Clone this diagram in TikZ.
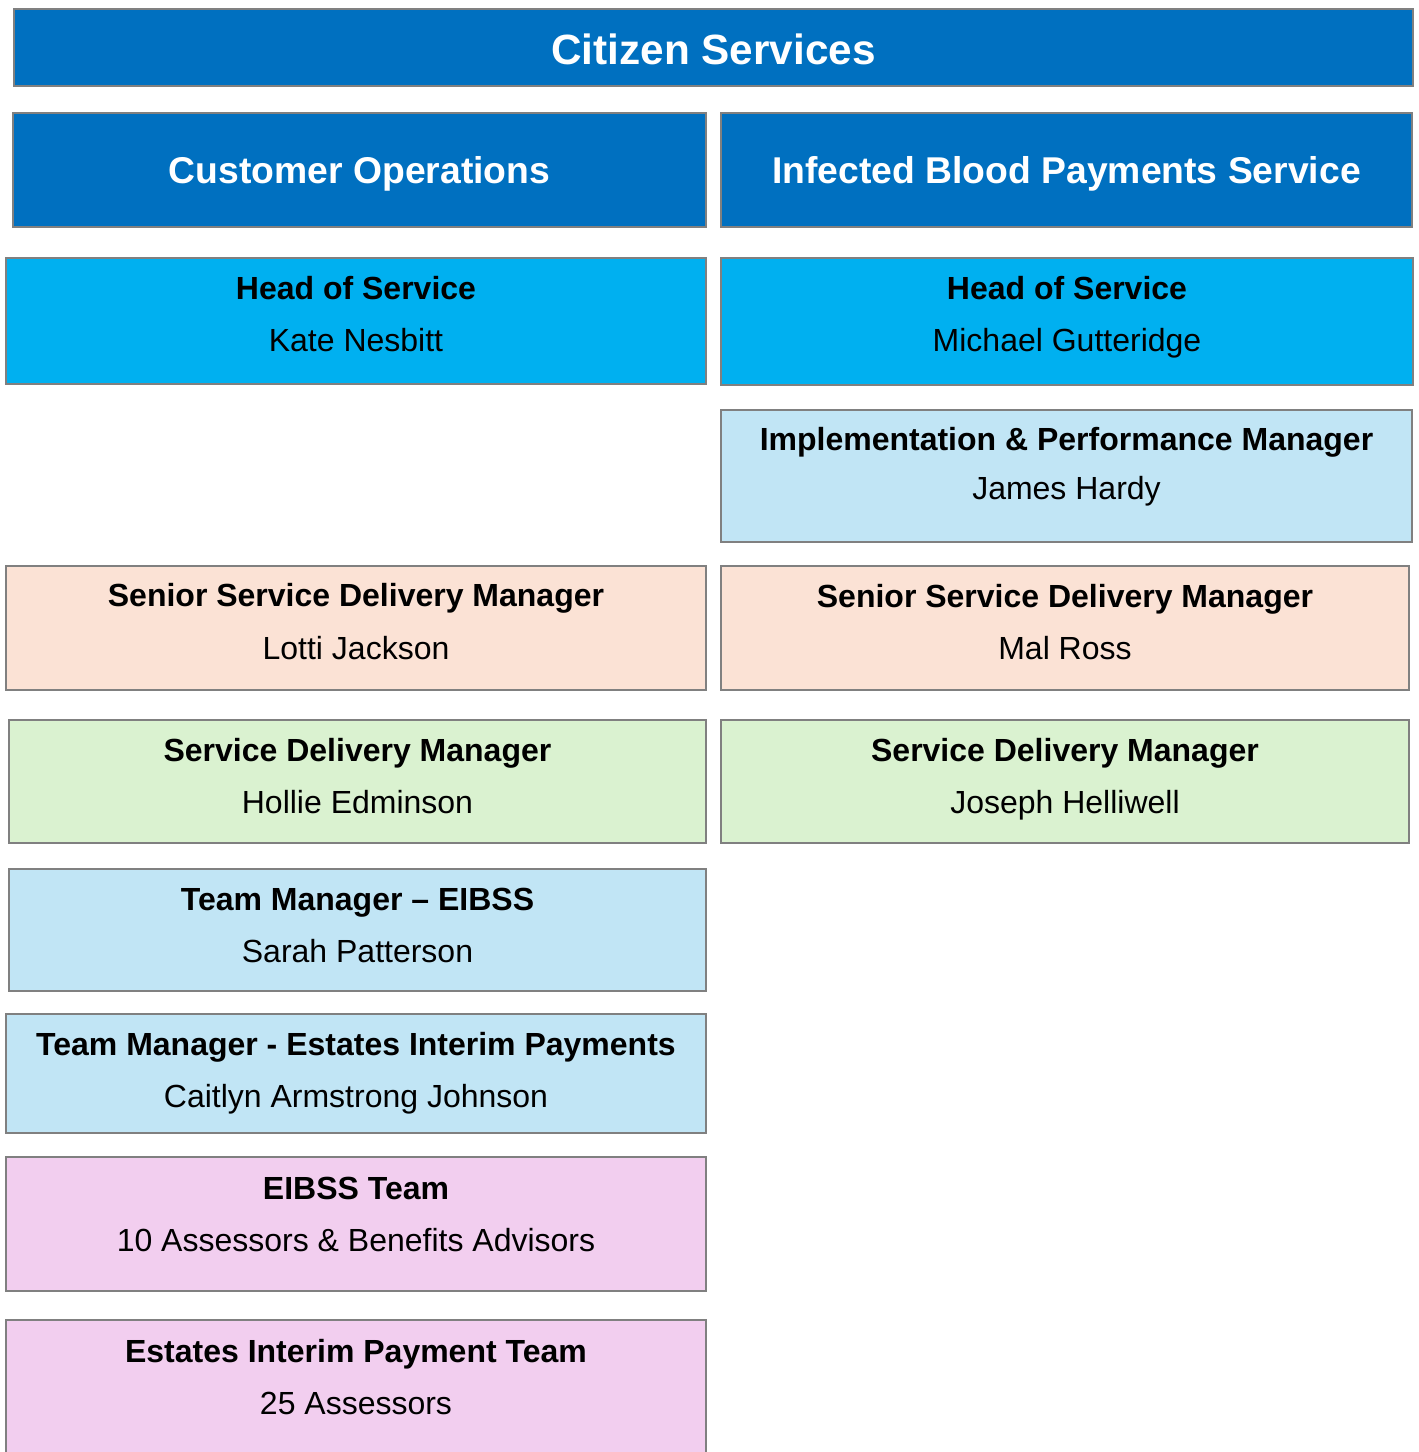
\documentclass[tikz,border=0pt]{standalone}
\usepackage{fontspec}
\setmainfont{Liberation Sans}
\definecolor{dblue}{HTML}{0070C0}
\definecolor{mblue}{HTML}{00B0F0}
\definecolor{lblue}{HTML}{C1E5F5}
\definecolor{peach}{HTML}{FBE2D5}
\definecolor{lgreen}{HTML}{DAF2D0}
\definecolor{pink}{HTML}{F2CEEF}
\definecolor{edge}{HTML}{808080}
\begin{document}
\begin{tikzpicture}[x=1pt,y=-1pt,
  box/.style={draw=edge,line width=1.6pt},
  hdr/.style={font=\fontsize{42.3}{50}\selectfont\bfseries,text=white,inner sep=0pt},
  sub/.style={font=\fontsize{37.3}{44}\selectfont\bfseries,text=white,inner sep=0pt},
  role/.style={font=\fontsize{32}{38}\selectfont\bfseries,inner sep=0pt,anchor=base},
  who/.style={font=\fontsize{32}{38}\selectfont,inner sep=0pt,anchor=base}]
\useasboundingbox (0,0) rectangle (1419,1452);
\clip (0,0) rectangle (1419,1452);
% title
\draw[box,fill=dblue] (14,9) rectangle (1413,86);
\node[hdr] (title) at (713.5,49) {Citizen Services};
% sub headers
\draw[box,fill=dblue] (13,113) rectangle (706,227);
\node[sub] (co) at (359.5,174) {Customer Operations};
\draw[box,fill=dblue] (721,113) rectangle (1412,227);
\node[sub] (ib) at (1066.5,174) {Infected Blood Payments Service};
% left column
\draw[box,fill=mblue] (6,258) rectangle (706,384);
\node[role] (l1a) at (356,299.5) {Head of Service};
\node[who] (l1b) at (356,351.5) {Kate Nesbitt};
\draw[box,fill=peach] (6,566) rectangle (706,690);
\node[role] (l2a) at (356,606.5) {Senior Service Delivery Manager};
\node[who] (l2b) at (356,659.5) {Lotti Jackson};
\draw[box,fill=lgreen] (9,720) rectangle (706,843);
\node[role] (l3a) at (357.5,761.5) {Service Delivery Manager};
\node[who] (l3b) at (357.5,813.5) {Hollie Edminson};
\draw[box,fill=lblue] (9,869) rectangle (706,991);
\node[role] (l4a) at (357.5,910.5) {Team Manager -- EIBSS};
\node[who] (l4b) at (357.5,962.5) {Sarah Patterson};
\draw[box,fill=lblue] (6,1014) rectangle (706,1133);
\node[role] (l5a) at (356,1055.5) {Team Manager - Estates Interim Payments};
\node[who] (l5b) at (356,1107.5) {Caitlyn Armstrong Johnson};
\draw[box,fill=pink] (6,1157) rectangle (706,1291);
\node[role] (l6a) at (356,1199.5) {EIBSS Team};
\node[who] (l6b) at (356,1251.5) {10 Assessors \& Benefits Advisors};
\draw[box,fill=pink] (6,1320) rectangle (706,1480);
\node[role] (l7a) at (356,1362.5) {Estates Interim Payment Team};
\node[who] (l7b) at (356,1414.5) {25 Assessors};
% right column
\draw[box,fill=mblue] (721,258) rectangle (1413,385);
\node[role] (r1a) at (1067,299.5) {Head of Service};
\node[who] (r1b) at (1067,351.5) {Michael Gutteridge};
\draw[box,fill=lblue] (721,410) rectangle (1412,542);
\node[role] (r2a) at (1066.5,450.5) {Implementation \& Performance Manager};
\node[who] (r2b) at (1066.5,499.5) {James Hardy};
\draw[box,fill=peach] (721,566) rectangle (1409,690);
\node[role] (r3a) at (1065,607.5) {Senior Service Delivery Manager};
\node[who] (r3b) at (1065,659.5) {Mal Ross};
\draw[box,fill=lgreen] (721,720) rectangle (1409,843);
\node[role] (r4a) at (1065,761.5) {Service Delivery Manager};
\node[who] (r4b) at (1065,813.5) {Joseph Helliwell};
\end{tikzpicture}
\end{document}
